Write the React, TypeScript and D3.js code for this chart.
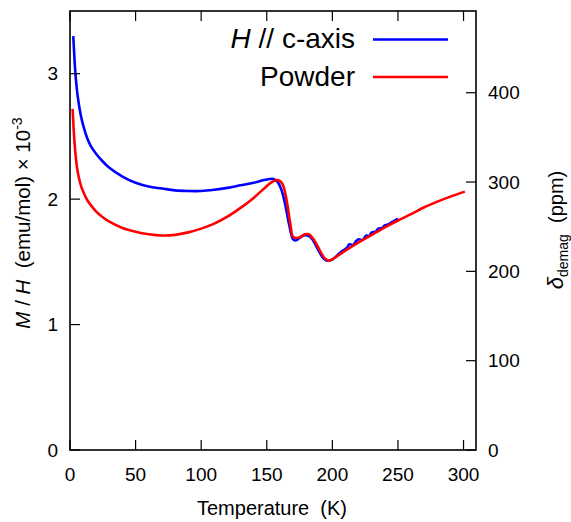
import React from "react";
import * as d3 from "d3";

const cAxisT = [2.5, 3, 4, 5, 6, 8, 10, 13, 16, 20, 25, 30, 40, 50, 60, 70, 80, 90, 100, 110, 120, 130, 140, 147, 152, 155, 158, 161, 164, 167, 170, 172, 175, 178, 181, 184, 187, 190, 193, 196, 199, 202, 205, 208, 211, 213, 216, 218, 220, 223, 226, 228, 230, 233, 235, 238, 240, 243, 245, 248, 250];
const cAxisM = [3.3, 3.2, 3.02, 2.9, 2.81, 2.68, 2.59, 2.49, 2.42, 2.36, 2.3, 2.25, 2.18, 2.13, 2.1, 2.085, 2.07, 2.065, 2.065, 2.075, 2.09, 2.11, 2.13, 2.15, 2.16, 2.16, 2.14, 2.08, 1.96, 1.8, 1.68, 1.67, 1.69, 1.71, 1.71, 1.69, 1.64, 1.58, 1.53, 1.51, 1.515, 1.535, 1.565, 1.59, 1.61, 1.64, 1.635, 1.665, 1.68, 1.675, 1.71, 1.705, 1.735, 1.74, 1.765, 1.77, 1.79, 1.8, 1.815, 1.83, 1.845];

const powderT = [2, 3, 4, 5, 6, 8, 10, 13, 16, 20, 25, 30, 40, 50, 60, 70, 80, 90, 100, 110, 120, 130, 140, 148, 153, 157, 159, 162, 165, 168, 170, 173, 176, 179, 182, 185, 188, 191, 194, 197, 200, 205, 210, 220, 230, 240, 250, 260, 270, 280, 290, 301];
const powderM = [2.72, 2.52, 2.38, 2.28, 2.21, 2.12, 2.06, 1.995, 1.95, 1.9, 1.855, 1.82, 1.77, 1.74, 1.72, 1.71, 1.715, 1.735, 1.765, 1.805, 1.86, 1.93, 2.01, 2.085, 2.13, 2.15, 2.15, 2.12, 2.0, 1.8, 1.7, 1.69, 1.7, 1.72, 1.72, 1.69, 1.64, 1.58, 1.53, 1.51, 1.52, 1.555, 1.59, 1.655, 1.715, 1.775, 1.83, 1.88, 1.935, 1.98, 2.02, 2.06];

const xTicks = [0, 50, 100, 150, 200, 250, 300];
const yTicks = [0, 1, 2, 3];
const y2Ticks = [0, 100, 200, 300, 400];

const W = 571, H = 522;
const left = 70, right = 476, top = 11, bottom = 450;
const font = "'Liberation Sans', Arial, sans-serif";

export default function App() {
  const x = d3.scaleLinear().domain([0, 309.5]).range([left, right]);
  const y = d3.scaleLinear().domain([0, 3.5]).range([bottom, top]);
  const y2 = d3.scaleLinear().domain([0, 491.5]).range([bottom, top]);
  const line = d3.line<[number, number]>().x(d => x(d[0])).y(d => y(d[1])).curve(d3.curveCatmullRom.alpha(0.5));
  const blue = line(cAxisT.map((t, i) => [t, cAxisM[i]]));
  const red = line(powderT.map((t, i) => [t, powderM[i]]));
  const tl = 10;
  return (
    <svg width={W} height={H} style={{ position: "absolute", left: 0, top: 0, background: "#fff" }} fontFamily={font}>
      <path d={blue || ""} fill="none" stroke="#0000ff" strokeWidth={2.6} />
      <path d={red || ""} fill="none" stroke="#ff0000" strokeWidth={2.6} />
      <rect x={left} y={top} width={right - left} height={bottom - top} fill="none" stroke="#000" strokeWidth={1.6} />
      {xTicks.map(t => (
        <g key={"x" + t}>
          <line x1={x(t)} x2={x(t)} y1={bottom} y2={bottom - tl} stroke="#000" strokeWidth={1.2} />
          <line x1={x(t)} x2={x(t)} y1={top} y2={top + tl} stroke="#000" strokeWidth={1.2} />
          <text x={x(t)} y={481} textAnchor="middle" fontSize={19}>{t}</text>
        </g>
      ))}
      {yTicks.map(t => (
        <g key={"y" + t}>
          <line x1={left} x2={left + tl} y1={y(t)} y2={y(t)} stroke="#000" strokeWidth={1.2} />
          <text x={58} y={y(t)} dy="0.35em" textAnchor="end" fontSize={19}>{t}</text>
        </g>
      ))}
      {y2Ticks.map(t => (
        <g key={"r" + t}>
          <line x1={right} x2={right - tl} y1={y2(t)} y2={y2(t)} stroke="#000" strokeWidth={1.2} />
          <text x={488} y={y2(t)} dy="0.35em" textAnchor="start" fontSize={19}>{t}</text>
        </g>
      ))}
      <text x={272} y={515} textAnchor="middle" fontSize={20}>Temperature&#160;&#160;(K)</text>
      <text transform={`translate(30,223) rotate(-90)`} textAnchor="middle" fontSize={20.5}>
        <tspan fontStyle="italic">M</tspan> / <tspan fontStyle="italic">H</tspan>&#160;&#160;(emu/mol) × 10<tspan fontSize={14} dy="-8">-3</tspan>
      </text>
      <text transform={`translate(563,230) rotate(-90)`} textAnchor="middle" fontSize={20}>
        <tspan fontStyle="italic" fontSize={22}>δ</tspan><tspan fontSize={14} dy="5">demag</tspan><tspan dy="-5">&#160;&#160;(ppm)</tspan>
      </text>
      <text x={355} y={48} textAnchor="end" fontSize={28}>
        <tspan fontStyle="italic">H</tspan> // c-axis
      </text>
      <line x1={373} x2={448} y1={39.5} y2={39.5} stroke="#0000ff" strokeWidth={2.6} />
      <text x={355} y={86} textAnchor="end" fontSize={28}>Powder</text>
      <line x1={373} x2={448} y1={77} y2={77} stroke="#ff0000" strokeWidth={2.6} />
    </svg>
  );
}
